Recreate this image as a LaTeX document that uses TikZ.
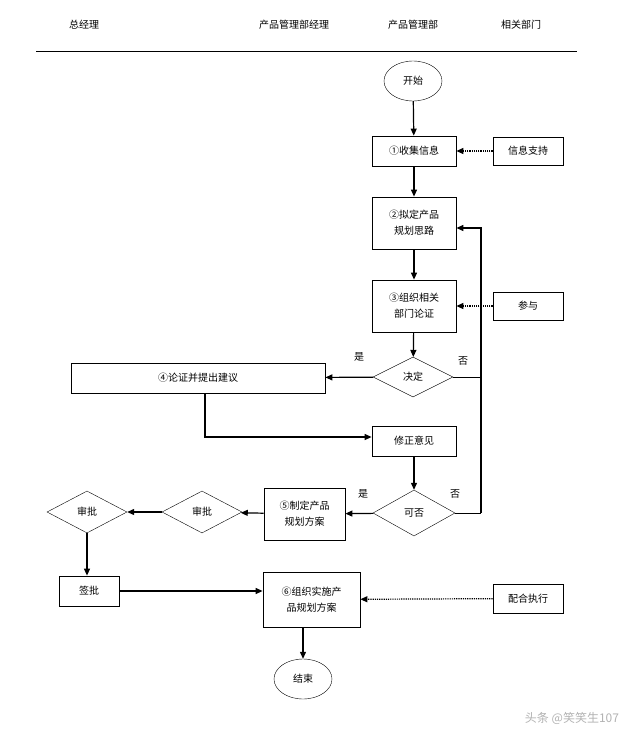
\documentclass[tikz,border=0pt]{standalone}
\usepackage{fontspec}
\setmainfont{Noto Sans CJK SC}
\usetikzlibrary{shapes.geometric,arrows.meta}
\begin{document}
\begin{tikzpicture}[x=1pt,y=-1pt,font=\fontsize{10}{12}\selectfont,
 box/.style={draw,thick,minimum width=84pt,minimum height=30pt,align=center,inner sep=1pt},
 dia/.style={draw,diamond,aspect=2,minimum width=80pt,minimum height=40pt,inner sep=0pt},
 ell/.style={draw,ellipse,minimum width=58pt,minimum height=40pt},
 arr/.style={very thick,-{Triangle[length=7pt,width=6pt]}},
 dar/.style={very thick,densely dotted,-{Triangle[length=7pt,width=6pt]}}]
\useasboundingbox (0,0) rectangle (644,744);
\node (h1) at (84,25) {总经理};
\node (h2) at (294,25) {产品管理部经理};
\node (h3) at (413,25) {产品管理部};
\node (h4) at (521,25) {相关部门};
\draw[thin] (36,51) -- (577,51);
\node[ell] (s) at (413,81) {开始};
\node[box] (b1) at (414,151) {①收集信息};
\node[box,minimum width=70pt,minimum height=28pt] (x1) at (528,151) {信息支持};
\node[box,minimum height=52pt] (b2) at (414,223) {②拟定产品\\[4pt]规划思路};
\node[box,minimum height=52pt] (b3) at (414,306) {③组织相关\\[4pt]部门论证};
\node[box,minimum width=70pt,minimum height=28pt] (x2) at (528,306) {参与};
\node[dia] (d1) at (413,377) {决定};
\node[box,minimum width=254pt] (b4) at (198,378) {④论证并提出建议};
\node[box] (b5) at (414,441) {修正意见};
\node[dia,minimum width=82pt,minimum height=46pt] (d2) at (414,513) {可否};
\node[box,minimum width=81pt,minimum height=52pt] (b6) at (304.5,514) {⑤制定产品\\[4pt]规划方案};
\node[dia,minimum height=42pt] (d3) at (202,512) {审批};
\node[dia,minimum height=42pt] (d4) at (87,512) {审批};
\node[box,minimum width=60pt] (b7) at (89,591) {签批};
\node[box,minimum width=97pt,minimum height=55pt] (b8) at (311.5,599.5) {⑥组织实施产\\[4pt]品规划方案};
\node[box,minimum width=70pt,minimum height=29pt] (x3) at (528,598.5) {配合执行};
\node[ell] (e) at (303,679) {结束};
\coordinate (c1) at (481,377);
\coordinate (c2) at (481,228);
\coordinate (c3) at (481,513);
\coordinate (c4) at (205,437);
\draw[arr] (s) -- (b1);
\draw[arr] (b1) -- (b2);
\draw[arr] (b2) -- (b3);
\draw[arr] (b3) -- (d1);
\draw[dar] (x1) -- (b1);
\draw[dar] (x2) -- (b3);
\draw[arr] (d1) -- (b4);
\draw[thick] (d1.east) -- (c1);
\draw[arr] (c3) -- (c2) -- (b2.east|-c2);
\draw[thick] (d2.east) -- (c3);
\draw[arr] (b4.south-|c4) -- (c4) -- (b5.west|-c4);
\draw[arr] (b5) -- (d2);
\draw[arr] (d2) -- (b6);
\draw[arr] (b6) -- (d3);
\draw[arr] (d3) -- (d4);
\draw[arr] (d4) -- (d4|-b7.north);
\draw[arr] (b7.east) -- (b8.west|-b7.east);
\draw[dar] (x3) -- (b8);
\draw[arr] (b8.south-|e) -- (e);
\node (l1) at (359,357) {是};
\node (l2) at (463,361) {否};
\node (l3) at (363,494) {是};
\node (l4) at (455,494) {否};
\node[gray!60,font=\fontsize{12}{14}\selectfont] (w) at (572,718) {头条 @笑笑生107};
\end{tikzpicture}
\end{document}
